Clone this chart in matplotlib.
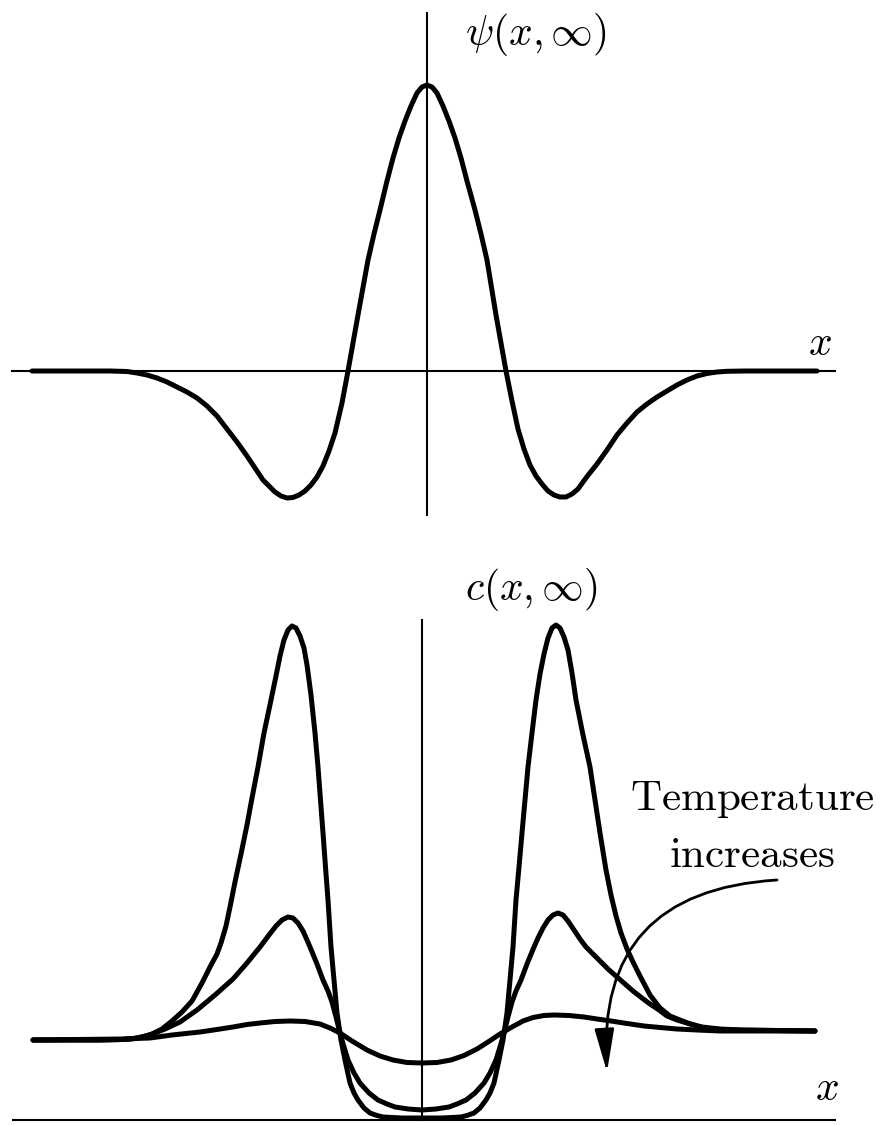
import matplotlib
matplotlib.use("Agg")
import matplotlib.pyplot as plt
from matplotlib.patches import FancyArrowPatch

plt.rcParams["mathtext.fontset"] = "cm"

# psi(x, inf): central peak with two negative side lobes
x_psi = [-3.95, -3.17, -3.00, -2.90, -2.80, -2.70, -2.60, -2.50, -2.40, -2.30,
         -2.20, -2.10, -2.00, -1.90, -1.80, -1.70, -1.64, -1.58, -1.52, -1.46,
         -1.40, -1.34, -1.28, -1.22, -1.16, -1.10, -1.04, -0.98, -0.92, -0.85,
         -0.79, -0.69, -0.59, -0.53, -0.47, -0.40, -0.34, -0.28, -0.22, -0.16,
         -0.10, -0.05, 0.00, 0.05, 0.10, 0.16, 0.22, 0.28, 0.34, 0.40,
         0.48, 0.54, 0.60, 0.69, 0.79, 0.85, 0.91, 0.97, 1.03, 1.09,
         1.15, 1.21, 1.27, 1.33, 1.39, 1.45, 1.51, 1.56, 1.62, 1.70,
         1.80, 1.90, 2.00, 2.10, 2.20, 2.30, 2.40, 2.50, 2.60, 2.70,
         2.80, 2.90, 3.00, 3.18, 3.90]
psi = [0.00, 0.00, -0.005, -0.02, -0.04, -0.07, -0.11, -0.16, -0.21, -0.27,
       -0.35, -0.45, -0.58, -0.71, -0.85, -1.00, -1.09, -1.15, -1.21, -1.25,
       -1.27, -1.265, -1.24, -1.20, -1.14, -1.06, -0.95, -0.80, -0.62, -0.32,
       0.00, 0.56, 1.11, 1.37, 1.61, 1.90, 2.13, 2.33, 2.50, 2.65,
       2.78, 2.84, 2.86, 2.84, 2.78, 2.65, 2.50, 2.33, 2.13, 1.90,
       1.61, 1.37, 1.11, 0.56, 0.00, -0.30, -0.58, -0.78, -0.94, -1.05,
       -1.13, -1.20, -1.24, -1.26, -1.26, -1.23, -1.18, -1.11, -1.03, -0.93,
       -0.79, -0.64, -0.52, -0.41, -0.33, -0.26, -0.20, -0.14, -0.09, -0.05,
       -0.025, -0.01, -0.003, 0.00, 0.00]

# c(x, inf) at three temperatures: low (tall peaks), medium, high (flat)
x_low = [-3.89, -3.22, -3.00, -2.90, -2.80, -2.70, -2.60, -2.50, -2.40, -2.30,
         -2.20, -2.12, -2.05, -2.01, -1.96, -1.92, -1.87, -1.81, -1.75, -1.70,
         -1.64, -1.58, -1.51, -1.46, -1.42, -1.38, -1.34, -1.30, -1.26, -1.22,
         -1.18, -1.15, -1.11, -1.07, -1.04, -1.015, -0.99, -0.965, -0.94, -0.91,
         -0.88, -0.85, -0.81, -0.77, -0.72, -0.68, -0.64, -0.58, -0.52, -0.45,
         -0.39, -0.20, 0.00, 0.20, 0.39, 0.45, 0.52, 0.58, 0.64, 0.68,
         0.72, 0.77, 0.81, 0.85, 0.88, 0.91, 0.94, 0.97, 1.00, 1.03,
         1.06, 1.10, 1.14, 1.18, 1.22, 1.26, 1.30, 1.34, 1.38, 1.42,
         1.46, 1.50, 1.54, 1.61, 1.68, 1.73, 1.78, 1.84, 1.89, 1.94,
         1.99, 2.05, 2.11, 2.18, 2.28, 2.38, 2.48, 2.58, 2.68, 2.78,
         2.90, 3.08, 3.93]
c_low = [0.80, 0.80, 0.805, 0.81, 0.83, 0.86, 0.91, 0.99, 1.08, 1.19,
         1.37, 1.53, 1.66, 1.77, 1.94, 2.13, 2.38, 2.66, 2.95, 3.22,
         3.53, 3.87, 4.20, 4.44, 4.64, 4.80, 4.90, 4.94, 4.92, 4.84,
         4.72, 4.55, 4.25, 3.87, 3.53, 3.20, 2.87, 2.53, 2.20, 1.73,
         1.40, 1.07, 0.80, 0.60, 0.37, 0.27, 0.20, 0.12, 0.07, 0.045,
         0.03, 0.02, 0.02, 0.02, 0.03, 0.045, 0.07, 0.12, 0.20, 0.27,
         0.37, 0.60, 0.80, 1.07, 1.40, 1.73, 2.20, 2.53, 2.87, 3.20,
         3.53, 3.87, 4.20, 4.46, 4.66, 4.82, 4.92, 4.95, 4.92, 4.83,
         4.70, 4.47, 4.20, 3.85, 3.53, 3.20, 2.87, 2.50, 2.25, 2.04,
         1.87, 1.71, 1.58, 1.44, 1.25, 1.12, 1.04, 1.00, 0.96, 0.93,
         0.91, 0.90, 0.89]

x_mid = [-3.89, -3.22, -3.00, -2.85, -2.72, -2.57, -2.42, -2.25, -2.07, -1.89,
         -1.75, -1.62, -1.53, -1.46, -1.40, -1.34, -1.29, -1.24, -1.19, -1.15,
         -1.12, -1.05, -0.99, -0.94, -0.90, -0.86, -0.82, -0.78, -0.74, -0.68,
         -0.62, -0.53, -0.44, -0.35, -0.27, -0.14, 0.00, 0.14, 0.27, 0.35,
         0.44, 0.53, 0.62, 0.68, 0.74, 0.78, 0.82, 0.86, 0.90, 0.94,
         0.99, 1.05, 1.12, 1.16, 1.21, 1.26, 1.31, 1.36, 1.41, 1.46,
         1.52, 1.58, 1.64, 1.71, 1.78, 1.86, 1.95, 2.03, 2.11, 2.20,
         2.28, 2.37, 2.45, 2.55, 2.65, 2.80, 2.98, 3.20, 3.93]
c_mid = [0.80, 0.80, 0.805, 0.82, 0.85, 0.91, 0.98, 1.10, 1.25, 1.41,
         1.57, 1.73, 1.85, 1.94, 2.00, 2.03, 2.02, 1.97, 1.89, 1.80,
         1.73, 1.56, 1.40, 1.29, 1.18, 1.03, 0.87, 0.73, 0.60, 0.47,
         0.37, 0.27, 0.20, 0.16, 0.13, 0.11, 0.10, 0.11, 0.13, 0.16,
         0.20, 0.27, 0.37, 0.47, 0.60, 0.73, 0.87, 1.03, 1.18, 1.29,
         1.40, 1.56, 1.73, 1.82, 1.92, 2.00, 2.05, 2.07, 2.05, 1.99,
         1.90, 1.81, 1.73, 1.66, 1.59, 1.51, 1.43, 1.36, 1.29, 1.22,
         1.16, 1.10, 1.04, 1.00, 0.97, 0.93, 0.91, 0.90, 0.89]

x_high = [-3.89, -3.00, -2.72, -2.50, -2.22, -2.05, -1.89, -1.75, -1.62, -1.47,
          -1.32, -1.17, -1.02, -0.92, -0.82, -0.70, -0.55, -0.42, -0.29, -0.15,
          0.00, 0.15, 0.29, 0.42, 0.55, 0.66, 0.78, 0.90, 1.01, 1.11,
          1.22, 1.32, 1.47, 1.62, 1.75, 1.89, 2.05, 2.22, 2.38, 2.55,
          2.75, 2.98, 3.93]
c_high = [0.80, 0.81, 0.82, 0.85, 0.88, 0.905, 0.93, 0.955, 0.97, 0.985,
          0.99, 0.985, 0.96, 0.92, 0.87, 0.79, 0.70, 0.64, 0.60, 0.575,
          0.57, 0.575, 0.60, 0.645, 0.71, 0.78, 0.86, 0.93, 0.99, 1.025,
          1.045, 1.05, 1.045, 1.03, 1.01, 0.99, 0.965, 0.94, 0.925, 0.91,
          0.90, 0.89, 0.89]

curve_kw = dict(color="black", lw=3.6, solid_joinstyle="round",
                solid_capstyle="round", zorder=3)
axis_kw = dict(color="black", lw=1.5, zorder=2)

fig = plt.figure(figsize=(8.86, 11.25), dpi=100)

# top panel
ax1 = fig.add_axes([0, 565 / 1125, 1, 560 / 1125])
ax1.set_xlim(-4.27, 4.59)
ax1.set_ylim(-1.89, 3.71)
ax1.axis("off")
ax1.plot([-4.15, 4.08], [0, 0], **axis_kw)
ax1.plot([0, 0], [-1.44, 3.58], **axis_kw)
ax1.plot(x_psi, psi, **curve_kw)
ax1.text(0.38, 3.36, r"$\psi(x,\infty)$", fontsize=30, ha="left", va="center")
ax1.text(3.93, 0.28, r"$x$", fontsize=30, ha="center", va="center")

# bottom panel
ax2 = fig.add_axes([0, 0, 1, 565 / 1125])
ax2.set_xlim(-4.22, 4.64)
ax2.set_ylim(-0.05, 5.60)
ax2.axis("off")
ax2.plot([-4.09, 4.13], [0, 0], **axis_kw)
ax2.plot([0, 0], [0, 5.0], **axis_kw)
for xs, cs in [(x_low, c_low), (x_mid, c_mid), (x_high, c_high)]:
    ax2.plot(xs, cs, **curve_kw)
ax2.text(0.43, 5.30, r"$c(x,\infty)$", fontsize=30, ha="left", va="center")
ax2.text(4.05, 0.32, r"$x$", fontsize=30, ha="center", va="center")

ax2.text(3.30, 3.10, r"$\mathrm{Temperature}$", fontsize=31,
         ha="center", va="baseline")
ax2.text(3.30, 2.53, r"$\mathrm{increases}$", fontsize=31,
         ha="center", va="baseline")
arrow = FancyArrowPatch((3.55, 2.40), (1.85, 0.48),
                        connectionstyle="arc3,rad=0.5",
                        arrowstyle="-|>,head_length=2.2,head_width=0.5",
                        color="black", lw=2.0, shrinkA=0, shrinkB=0,
                        mutation_scale=12, zorder=4)
ax2.add_patch(arrow)

fig.savefig("out.png", dpi=100, facecolor="white")
